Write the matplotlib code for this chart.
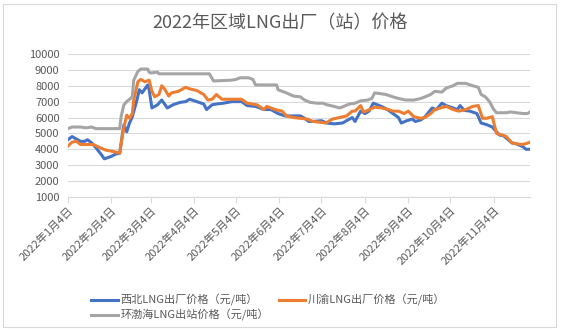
import matplotlib
matplotlib.use("Agg")
import matplotlib.pyplot as plt
from matplotlib.patches import Rectangle
import pandas as pd

plt.rcParams['font.family'] = ['Noto Sans CJK SC', 'DejaVu Sans']

# ---- data ----
nw_dates = ["01-04", "01-07", "01-09", "01-13", "01-16", "01-18", "01-21", "01-24", "01-28", "01-30",
            "02-04", "02-07", "02-10", "02-12", "02-13", "02-15", "02-17", "02-19", "02-22", "02-24",
            "02-26", "03-02", "03-03", "03-05", "03-09", "03-12", "03-16", "03-20", "03-25", "03-29",
            "04-01", "04-06", "04-11", "04-13", "04-17", "04-20", "04-25", "05-01", "05-08", "05-12",
            "05-18", "05-24", "05-29", "06-03", "06-08", "06-14", "06-19", "06-22", "06-25", "06-28",
            "07-04", "07-08", "07-13", "07-19", "07-24", "07-26", "07-28", "08-01", "08-04", "08-07",
            "08-10", "08-13", "08-17", "08-21", "08-24", "08-28", "08-30", "09-03", "09-07", "09-09",
            "09-13", "09-16", "09-21", "09-24", "09-28", "10-01", "10-06", "10-09", "10-11", "10-14",
            "10-18", "10-23", "10-26", "10-30", "11-03", "11-08", "11-11", "11-13", "11-17", "11-20",
            "11-25", "11-27", "11-30"]
nw_price = [4600, 4800, 4700, 4500, 4500, 4600, 4400, 4100, 3650, 3400,
            3550, 3700, 3750, 5000, 5550, 5100, 5650, 6050, 7000, 7750,
            7550, 8050, 7750, 6600, 6800, 7100, 6600, 6800, 6950, 7000,
            7150, 7000, 6850, 6500, 6800, 6850, 6900, 7000, 7000, 6750,
            6700, 6500, 6500, 6250, 6100, 6100, 6100, 5950, 5750, 5750,
            5800, 5650, 5600, 5650, 5900, 6000, 5750, 6400, 6250, 6400,
            6900, 6800, 6650, 6450, 6250, 6000, 5650, 5800, 5900, 5750,
            5850, 6050, 6600, 6500, 6900, 6750, 6600, 6500, 6750, 6450,
            6400, 6250, 5650, 5550, 5400, 4900, 4850, 4700, 4400, 4350,
            4150, 4000, 4000]

cy_dates = ["01-04", "01-07", "01-10", "01-13", "01-17", "01-22", "01-27", "01-31", "02-06", "02-10",
            "02-12", "02-13", "02-15", "02-17", "02-19", "02-20", "02-23", "02-25", "02-28", "03-03",
            "03-05", "03-07", "03-10", "03-12", "03-14", "03-17", "03-19", "03-24", "03-29", "04-01",
            "04-06", "04-11", "04-14", "04-17", "04-20", "04-24", "05-01", "05-08", "05-12", "05-19",
            "05-24", "05-26", "06-01", "06-06", "06-09", "06-14", "06-19", "06-24", "06-28", "07-03",
            "07-07", "07-12", "07-17", "07-22", "07-26", "07-28", "08-01", "08-03", "08-06", "08-11",
            "08-16", "08-21", "08-24", "08-28", "09-01", "09-04", "09-08", "09-13", "09-16", "09-20",
            "09-23", "09-27", "10-01", "10-06", "10-10", "10-15", "10-20", "10-24", "10-27", "10-30",
            "11-03", "11-06", "11-10", "11-13", "11-17", "11-20", "11-24", "11-27", "11-30"]
cy_price = [4200, 4450, 4500, 4300, 4300, 4300, 4100, 3950, 3850, 3750,
            4900, 5350, 6150, 5950, 6250, 7100, 8250, 8400, 8250, 8350,
            7650, 7300, 7450, 8000, 7800, 7350, 7550, 7650, 7900, 7800,
            7700, 7450, 7100, 7150, 7450, 7150, 7150, 7150, 6900, 6800,
            6500, 6700, 6500, 6400, 6100, 6000, 5950, 5900, 5750, 5700,
            5650, 5900, 6000, 6100, 6400, 6400, 6750, 6350, 6450, 6650,
            6600, 6500, 6400, 6400, 6250, 6400, 6050, 5950, 6000, 6250,
            6500, 6600, 6700, 6500, 6400, 6500, 6700, 6750, 5950, 5950,
            6050, 5000, 4900, 4800, 4400, 4350, 4300, 4350, 4450]

hb_dates = ["01-04", "01-07", "01-13", "01-17", "01-21", "01-24", "02-10", "02-11", "02-13", "02-15",
            "02-17", "02-19", "02-20", "02-23", "02-25", "03-02", "03-03", "03-04", "03-09", "03-10",
            "04-15", "04-18", "05-01", "05-04", "05-07", "05-13", "05-16", "05-18", "06-02", "06-03",
            "06-09", "06-14", "06-19", "06-22", "06-26", "07-01", "07-05", "07-08", "07-13", "07-17",
            "07-20", "07-24", "07-28", "08-01", "08-06", "08-09", "08-11", "08-15", "08-19", "08-24",
            "08-28", "09-02", "09-08", "09-13", "09-16", "09-20", "09-23", "09-28", "10-01", "10-06",
            "10-09", "10-15", "10-20", "10-24", "10-26", "10-29", "11-01", "11-04", "11-06", "11-13",
            "11-16", "11-20", "11-25", "11-28", "11-30"]
hb_price = [5300, 5400, 5400, 5350, 5400, 5300, 5300, 6050, 6800, 7000,
            7150, 7300, 8350, 8900, 9050, 9050, 8850, 8800, 8850, 8750,
            8750, 8300, 8350, 8400, 8500, 8500, 8400, 8050, 8050, 7750,
            7550, 7350, 7300, 7100, 6950, 6900, 6900, 6800, 6700, 6600,
            6700, 6850, 6900, 7050, 7100, 7200, 7550, 7500, 7450, 7300,
            7200, 7100, 7100, 7200, 7300, 7450, 7650, 7600, 7850, 8000,
            8150, 8150, 8000, 7900, 7450, 7300, 7000, 6500, 6300, 6300,
            6350, 6300, 6250, 6250, 6350]

series_names = ["西北LNG出厂价格（元/吨）", "川渝LNG出厂价格（元/吨）", "环渤海LNG出站价格（元/吨）"]
series_colors = ["#4472C4", "#ED7D31", "#A5A5A5"]
tick_dates = ["01-04", "02-04", "03-04", "04-04", "05-04", "06-04", "07-04", "08-04", "09-04", "10-04", "11-04"]
yticks = [1000, 2000, 3000, 4000, 5000, 6000, 7000, 8000, 9000, 10000]


def to_dt(lst):
    return pd.to_datetime(["2022-" + s for s in lst])


fig = plt.figure(figsize=(5.61, 3.31), dpi=100)
ax = fig.add_axes([0.121, 0.405, 0.824, 0.432])

lines = []
for d, v, name, col in zip([nw_dates, cy_dates, hb_dates], [nw_price, cy_price, hb_price],
                           series_names, series_colors):
    ln, = ax.plot(to_dt(d), v, color=col, lw=2.2, label=name, solid_joinstyle='round')
    lines.append(ln)

ax.set_ylim(1000, 10000)
ax.set_yticks(yticks)
ax.set_xlim(pd.Timestamp("2022-01-04"), pd.Timestamp("2022-11-30"))
tks = to_dt(tick_dates)
ax.set_xticks(tks)
ax.set_xticklabels([f"{t.year}年{t.month}月{t.day}日" for t in tks],
                   rotation=45, ha='right', rotation_mode='anchor')

ax.grid(axis='y', color='#d9d9d9', lw=0.8)
ax.set_axisbelow(True)
for s in ['top', 'right', 'left']:
    ax.spines[s].set_visible(False)
ax.spines['bottom'].set_color('#d9d9d9')
ax.tick_params(axis='y', length=0, labelsize=8, colors='#595959', pad=6)
ax.tick_params(axis='x', length=4, color='#d9d9d9', labelsize=8, labelcolor='#595959', pad=2)

fig.text(0.5, 0.93, "2022年区域LNG出厂（站）价格", ha='center', va='center',
         fontsize=13, color='#595959')

# legend: row-major order via column fill
leg = fig.legend([lines[0], lines[2], lines[1]],
                 [series_names[0], series_names[2], series_names[1]],
                 ncol=2, loc='upper left', bbox_to_anchor=(0.155, 0.125),
                 frameon=False, fontsize=8, handlelength=2.4, handletextpad=0.2,
                 columnspacing=0.9, labelspacing=0.3, borderaxespad=0)
for t in leg.get_texts():
    t.set_color('#595959')

fig.patches.append(Rectangle((0.006, 0.012), 0.985, 0.976, transform=fig.transFigure,
                             fill=False, edgecolor='#d9d9d9', lw=0.8))

fig.savefig("out.png", dpi=100)
